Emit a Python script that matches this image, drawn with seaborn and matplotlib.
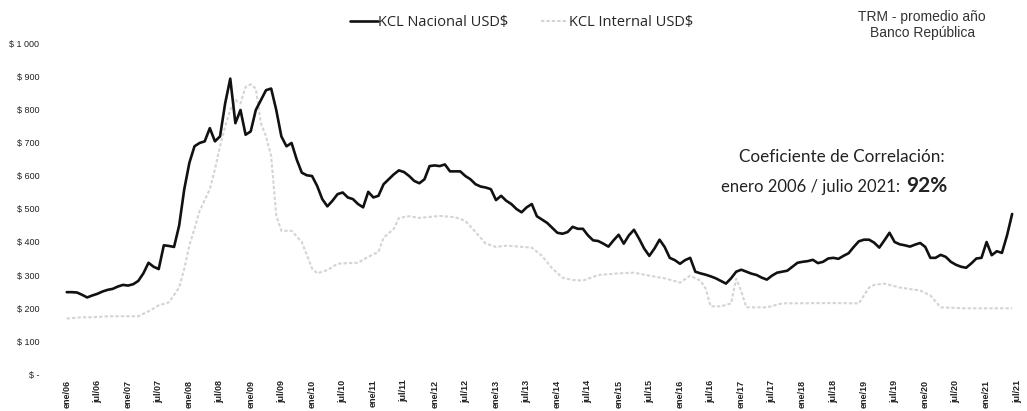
import matplotlib
matplotlib.use('Agg')
import matplotlib.pyplot as plt
import seaborn as sns
import pandas as pd

# KCL Nacional USD$ - mensual desde ene/06
nacional = [
    248, 248, 247, 240, 232, 238, 243, 250, 255, 258, 265, 270,   # 2006
    268, 272, 282, 305, 337, 325, 318, 390, 388, 385, 450, 560,   # 2007
    640, 690, 700, 705, 745, 705, 720, 820, 895, 760, 800, 725,   # 2008
    735, 800, 830, 860, 865, 800, 720, 690, 700, 650, 610, 602,   # 2009
    600, 570, 530, 508, 525, 545, 550, 535, 530, 515, 505, 552,   # 2010
    535, 540, 575, 590, 605, 617, 612, 600, 585, 578, 590, 630,   # 2011
    632, 630, 635, 614, 614, 614, 600, 590, 575, 568, 565, 560,   # 2012
    527, 540, 525, 515, 500, 490, 505, 515, 478, 468, 458, 443,   # 2013
    428, 425, 430, 446, 440, 440, 420, 405, 403, 395, 386, 405,   # 2014
    422, 395, 420, 437, 410, 380, 358, 380, 407, 385, 352, 345,   # 2015
    334, 345, 352, 310, 305, 301, 296, 290, 282, 274, 290, 310,   # 2016
    316, 310, 304, 300, 292, 286, 298, 307, 310, 313, 325, 337,   # 2017
    340, 342, 346, 336, 340, 350, 352, 349, 358, 366, 385, 402,   # 2018
    407, 407, 398, 383, 405, 428, 400, 393, 390, 386, 392, 397,   # 2019
    385, 352, 352, 361, 355, 340, 331, 325, 322, 335, 350, 352,   # 2020
    400, 360, 372, 367, 420, 485,                                 # 2021
]
nacional_mes = list(range(len(nacional)))

# KCL Internal USD$ - puntos leidos (mes desde ene/06, valor)
internal_mes = [0, 3, 5, 8, 14, 16, 18, 20, 22, 23, 24, 25, 26, 28, 29, 30, 31, 32,
                33, 34, 35, 36, 37, 38, 39, 40, 41, 42, 44, 46, 47, 48, 49, 51, 53,
                55, 57, 59, 61, 62, 64, 65, 67, 69, 73, 76, 78, 80, 82, 84, 86, 91,
                93, 95, 97, 99, 101, 104, 108, 111, 114, 117, 120, 122, 124, 125,
                126, 128, 130, 131, 132, 133, 137, 140, 150, 155, 157, 158, 160,
                163, 167, 169, 171, 176, 185]
internal = [168, 172, 172, 175, 175, 190, 208, 217, 262, 319, 390, 440, 494, 560,
            620, 690, 750, 800, 830, 820, 870, 878, 865, 760, 720, 660, 480, 434,
            434, 400, 360, 320, 305, 315, 334, 336, 337, 355, 370, 413, 440, 473,
            478, 473, 479, 475, 464, 430, 395, 385, 389, 383, 358, 320, 292, 285,
            283, 300, 305, 307, 298, 290, 277, 298, 283, 260, 205, 205, 214, 289,
            250, 202, 202, 214, 215, 214, 262, 270, 274, 262, 253, 238, 202, 199,
            199]

y_ticks = [0, 100, 200, 300, 400, 500, 600, 700, 800, 900, 1000]
y_labels = ['$ -', '$ 100', '$ 200', '$ 300', '$ 400', '$ 500',
            '$ 600', '$ 700', '$ 800', '$ 900', '$ 1 000']
x_labels = [f'{p}/{a:02d}' for a in range(6, 22) for p in ('ene', 'jul')]

df_nac = pd.DataFrame({'mes': nacional_mes, 'valor': nacional})
df_int = pd.DataFrame({'mes': internal_mes, 'valor': internal})

sns.set_style('white')
plt.rcParams['font.family'] = ['Liberation Sans', 'DejaVu Sans']

fig = plt.figure(figsize=(10.27, 4.11), dpi=100)
ax = fig.add_axes([0.060, 0.090, 0.933, 0.803])

sns.lineplot(data=df_int, x='mes', y='valor', ax=ax, color='#d4d4d4',
             linewidth=1.5, linestyle=(0, (1.6, 1.0)), label='KCL Internal USD$')
sns.lineplot(data=df_nac, x='mes', y='valor', ax=ax, color='#111111',
             linewidth=1.9, label='KCL Nacional USD$')

ax.set_xlim(-1, 186.5)
ax.set_ylim(0, 1000)
ax.set_yticks(y_ticks)
ax.set_yticklabels(y_labels, fontsize=6.5, color='#222222')
ax.set_xticks(range(0, 187, 6))
ax.set_xticklabels(x_labels, rotation=90, fontsize=6.5, color='#222222',
                   fontweight='bold')
ax.tick_params(axis='y', length=0, pad=16)
ax.tick_params(axis='x', length=0, pad=4)
ax.set_xlabel('')
ax.set_ylabel('')
for s in ax.spines.values():
    s.set_visible(False)

handles, labels = ax.get_legend_handles_labels()
ax.get_legend().remove()
fig.legend(handles[::-1], labels[::-1], loc='center', ncol=2,
           bbox_to_anchor=(0.508, 0.945), frameon=False,
           handlelength=1.9, handletextpad=0.05, columnspacing=2.2,
           prop={'family': ['Open Sans', 'DejaVu Sans'], 'size': 10.5})

fig.text(0.898, 0.975, 'TRM - promedio año\nBanco República', ha='center',
         va='top', fontsize=10, color='#333333', linespacing=1.15)

fig.text(0.820, 0.618, 'Coeficiente de Correlación:', ha='center', va='center',
         fontsize=12.3, color='#222222', family=['Lato', 'DejaVu Sans'])
fig.text(0.880, 0.545, 'enero 2006 / julio 2021: ', ha='right', va='center',
         fontsize=12, color='#222222', family=['Lato', 'DejaVu Sans'])
fig.text(0.882, 0.548, '92%', ha='left', va='center', fontsize=15,
         fontweight='bold', color='#222222', family=['Lato', 'DejaVu Sans'])

fig.savefig('out.png', dpi=100)
